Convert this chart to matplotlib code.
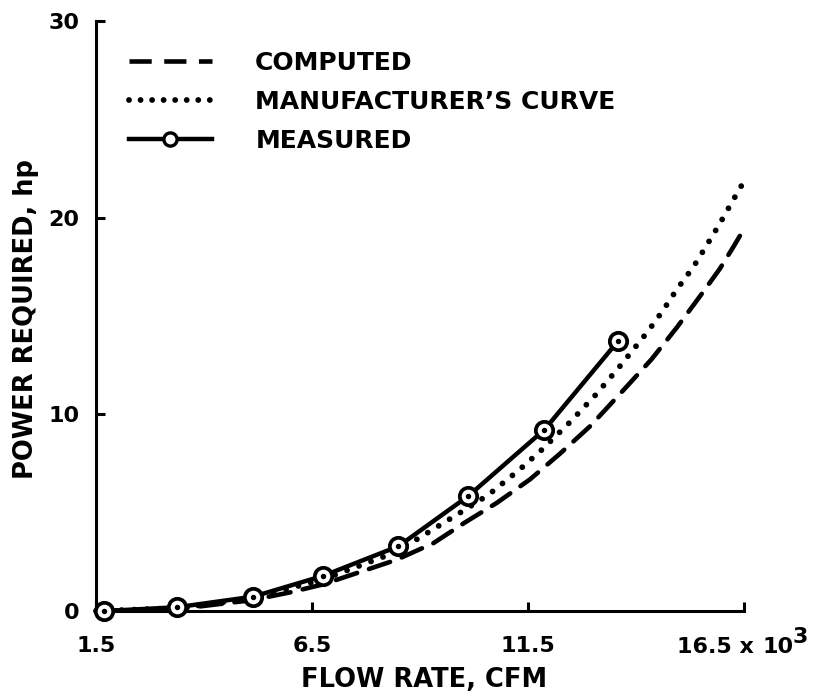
import matplotlib
matplotlib.use('Agg')
import matplotlib.pyplot as plt
from matplotlib.lines import Line2D

plt.rcParams['font.family'] = ['DejaVu Sans']
plt.rcParams['font.weight'] = 'bold'
plt.rcParams['lines.scale_dashes'] = False

# ---- data (flow rate in 10^3 CFM, power in hp) ----
measured_x = [1.69, 3.37, 5.14, 6.76, 8.50, 10.12, 11.88, 13.59]
measured_y = [0.0, 0.19, 0.73, 1.79, 3.29, 5.85, 9.22, 13.74]

computed_x = [1.5, 3.4, 5.1, 6.0, 6.75, 8.45, 9.31, 10.04, 10.78, 11.55, 12.24,
              12.94, 13.78, 14.36, 14.94, 15.48, 15.94, 16.25, 16.52]
computed_y = [0.0, 0.1, 0.55, 0.95, 1.35, 2.6, 3.45, 4.5, 5.5, 6.7, 8.0,
              9.4, 11.4, 12.8, 14.4, 16.0, 17.4, 18.5, 19.5]

manuf_x = [1.5, 3.4, 5.1, 6.75, 8.45, 9.93, 10.58, 11.31, 11.82, 12.47, 13.07,
           13.61, 14.27, 14.63, 14.96, 15.33, 15.61, 15.94, 16.25, 16.54]
manuf_y = [0.0, 0.15, 0.65, 1.6, 3.0, 5.0, 5.9, 7.2, 8.2, 9.6, 11.0,
           12.4, 14.2, 15.3, 16.4, 17.5, 18.5, 19.7, 20.9, 22.0]

x_ticks = [1.5, 6.5, 11.5, 16.5]
x_ticklabels = ['1.5', '6.5', '11.5', '']
y_ticks = [0, 10, 20, 30]
y_ticklabels = ['0', '10', '20', '30']

labels = ['COMPUTED', 'MANUFACTURER\u2019S CURVE', 'MEASURED']

# ---- figure ----
W, H = 814, 698
fig = plt.figure(figsize=(W / 100, H / 100), dpi=100)
ax = fig.add_axes([96 / W, 1 - 611 / H, 648 / W, 590 / H])

ax.plot(computed_x, computed_y, color='black', lw=3.3, dashes=(16, 9),
        dash_capstyle='round', clip_on=False, zorder=2)
ax.plot(manuf_x, manuf_y, color='black', lw=4.2, dashes=(0.01, 9.2),
        dash_capstyle='round', clip_on=False, zorder=2)
ax.plot(measured_x, measured_y, color='black', lw=3.2, marker='o', ms=12.5,
        mfc='white', mec='black', mew=2.7, clip_on=False, zorder=4)
ax.plot(measured_x, measured_y, ls='none', marker='o', ms=2.9, color='black',
        clip_on=False, zorder=5)

ax.set_xlim(1.5, 16.5)
ax.set_ylim(0, 30)
ax.set_xticks(x_ticks)
ax.set_xticklabels(x_ticklabels)
ax.set_yticks(y_ticks)
ax.set_yticklabels(y_ticklabels)

for s in ['top', 'right']:
    ax.spines[s].set_visible(False)
for s in ['left', 'bottom']:
    ax.spines[s].set_linewidth(2.2)

ax.tick_params(axis='both', direction='in', length=6.5, width=2.2,
               labelsize=16)
ax.tick_params(axis='x', pad=18)
ax.tick_params(axis='y', pad=12)

# last x tick label "16.5 x 10^3"
ax.annotate('16.5 x', xy=(16.5, 0), xycoords=('data', 'axes fraction'),
            xytext=(-48.5, -30.2), textcoords='offset points',
            ha='left', va='baseline', fontsize=16, fontweight='bold',
            annotation_clip=False)
ax.annotate('10', xy=(16.5, 0), xycoords=('data', 'axes fraction'),
            xytext=(13.5, -30.2), textcoords='offset points',
            ha='left', va='baseline', fontsize=16, fontweight='bold',
            annotation_clip=False)
ax.annotate('3', xy=(16.5, 0), xycoords=('data', 'axes fraction'),
            xytext=(35.3, -23.0), textcoords='offset points',
            ha='left', va='baseline', fontsize=16, fontweight='bold',
            annotation_clip=False)

ax.set_xlabel('FLOW RATE, CFM', fontsize=18.5, fontweight='bold')
ax.xaxis.set_label_coords(0.506, -0.095)
ax.set_ylabel('POWER REQUIRED, hp', fontsize=18.5, fontweight='bold')
ax.yaxis.set_label_coords(-0.088, 0.495)

# legend
handles = [
    Line2D([], [], color='black', lw=3.3, dashes=(16, 9), dash_capstyle='butt'),
    Line2D([], [], color='black', lw=4.2, dashes=(0.01, 8.3), dash_capstyle='round'),
    Line2D([], [], color='black', lw=3.2, marker='o', ms=9.5, mfc='white',
           mec='black', mew=2.4),
]
leg = fig.legend(handles, labels, loc='upper left',
                 bbox_to_anchor=(129 / W, 1 - 51 / H), frameon=False,
                 fontsize=18, handlelength=3.3, handletextpad=1.75,
                 labelspacing=0.6, borderpad=0, borderaxespad=0)
for t in leg.get_texts():
    t.set_fontweight('bold')

fig.savefig('out.png', dpi=100)
